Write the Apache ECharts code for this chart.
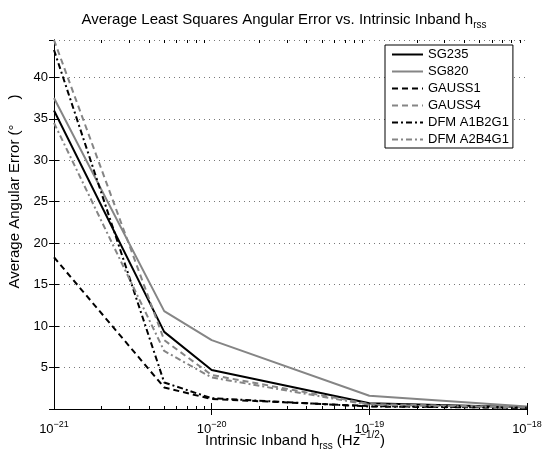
<!DOCTYPE html>
<html><head><meta charset="utf-8">
<script src="https://cdn.jsdelivr.net/npm/echarts@6/dist/echarts.min.js"></script>
<style>html,body{margin:0;padding:0;background:#fff}#c{width:549px;height:451px}</style>
</head><body><div id="c"></div>
<script>
const hrss = [1e-21, 5e-21, 1e-20, 1e-19, 1e-18];
const seriesNames = ['SG235', 'SG820', 'GAUSS1', 'GAUSS4', 'DFM A1B2G1', 'DFM A2B4G1'];
const sg235 = [36.0, 9.3, 4.7, 0.7, 0.2];
const sg820 = [37.5, 11.8, 8.3, 1.6, 0.3];
const gauss1 = [18.3, 2.6, 1.2, 0.35, 0.15];
const gauss4 = [44.5, 8.3, 4.1, 0.6, 0.2];
const dfmA1B2G1 = [43.3, 3.2, 1.3, 0.3, 0.15];
const dfmA2B4G1 = [34.5, 7.0, 3.8, 0.5, 0.2];
const yTicks = [5, 10, 15, 20, 25, 30, 35, 40];

const FONT = 'Liberation Sans, Arial, sans-serif';
const GRAY = '#858585';
const minorExp = [];
for (let e = -21; e < -18; e++) for (let k = 2; k <= 9; k++) minorExp.push(e + Math.log10(k));

function mk(name, data, color, type) {
  return {
    name: name, type: 'line', data: hrss.map((x, i) => [x, data[i]]),
    symbol: 'circle', showSymbol: false, symbolSize: 4,
    lineStyle: {color: color, width: 2, type: type, cap: 'butt'},
    itemStyle: {color: color}, xAxisIndex: 0, yAxisIndex: 0, z: 3
  };
}
function tickAxis(pos, vals, len) {
  return {
    type: 'value', position: pos, min: -21, max: -18,
    axisLine: {show: false},
    axisTick: {show: true, inside: true, length: len, lineStyle: {color: '#000'}, customValues: vals},
    axisLabel: {show: false}, splitLine: {show: false}
  };
}
const yBase = {
  type: 'value', min: 0, max: 44.5, interval: 5,
  axisLine: {show: true, lineStyle: {color: '#000', width: 1}},
  axisTick: {show: true, inside: true, length: 5, lineStyle: {color: '#000'}},
  splitLine: {show: false}
};
const option = {
  animation: false, backgroundColor: '#fff',
  title: [
    {
      text: 'Average Least Squares Angular Error vs. Intrinsic Inband h{sub|rss}',
      left: 279, textAlign: 'center', top: 4,
      textStyle: {fontSize: 15, fontWeight: 'normal', fontFamily: FONT, color: '#000',
        rich: {sub: {fontSize: 10, fontFamily: FONT, color: '#000', padding: [11, 0, 0, 0]}}}
    },
    {
      text: 'Intrinsic Inband h{sub|rss} (Hz{sup|\u22121/2})',
      left: 290, textAlign: 'center', top: 425,
      textStyle: {fontSize: 15, fontWeight: 'normal', fontFamily: FONT, color: '#000',
        rich: {
          sub: {fontSize: 10, fontFamily: FONT, color: '#000', padding: [11, 0, 0, 0]},
          sup: {fontSize: 10, fontFamily: FONT, color: '#000', padding: [0, 0, 11, 0]}
        }}
    }
  ],
  grid: {left: 54, top: 40, right: 22, bottom: 42, outerBoundsMode: 'none'},
  legend: {
    orient: 'vertical', left: 385, top: 45, data: seriesNames,
    itemWidth: 31, itemHeight: 12, itemGap: 4, padding: [3, 4, 2, 6],
    borderColor: '#000', borderWidth: 1, backgroundColor: '#fff',
    itemStyle: {opacity: 0},
    textStyle: {fontSize: 13, fontFamily: FONT, color: '#000', lineHeight: 12}
  },
  xAxis: [
    {
      type: 'log', logBase: 10, min: 1e-21, max: 1e-18, position: 'bottom',
      axisLine: {show: true, lineStyle: {color: '#000', width: 1}},
      splitLine: {show: false},
      axisTick: {show: true, inside: true, length: 6, lineStyle: {color: '#000'}},
      axisLabel: {show: false}
    },
    {
      type: 'log', logBase: 10, min: 1e-21, max: 1e-18, position: 'top',
      axisLine: {show: true, lineStyle: {color: '#000', width: 1}},
      splitLine: {show: false},
      axisTick: {show: true, inside: true, length: 6, lineStyle: {color: '#000'}},
      axisLabel: {show: false}
    },
    tickAxis('bottom', minorExp, 3),
    tickAxis('top', minorExp, 3),
    {
      type: 'value', position: 'bottom', min: -21, max: -18, interval: 1,
      axisLine: {show: false}, axisTick: {show: false}, splitLine: {show: false},
      axisLabel: {show: true, margin: 11, color: '#000', fontFamily: FONT,
        formatter: function (v) { return '{b|10}{s|\u2212' + Math.abs(Math.round(v)) + '}'; },
        rich: {
          b: {fontSize: 13, fontFamily: FONT, color: '#000'},
          s: {fontSize: 9, fontFamily: FONT, color: '#000', padding: [0, 0, 9, 0]}
        }}
    }
  ],
  yAxis: [
    Object.assign({}, yBase, {
      position: 'left',
      name: 'Average Angular Error (\u00b0      )', nameLocation: 'middle', nameGap: 25,
      nameTextStyle: {fontSize: 15, fontFamily: FONT, color: '#000', padding: [0, 0, 0, 66]},
      axisLabel: {show: true, fontSize: 13, fontFamily: FONT, color: '#000', margin: 6,
        showMinLabel: false, showMaxLabel: false,
        formatter: function (v) { return yTicks.indexOf(v) >= 0 ? String(v) : ''; }},
      splitLine: {show: true, lineStyle: {color: '#777', type: [1, 4], width: 1}}
    }),
    Object.assign({}, yBase, {position: 'right', axisLabel: {show: false}})
  ],
  series: [
    mk(seriesNames[0], sg235, '#000', 'solid'),
    mk(seriesNames[1], sg820, GRAY, 'solid'),
    mk(seriesNames[2], gauss1, '#000', [6, 4]),
    mk(seriesNames[3], gauss4, GRAY, [6, 4]),
    mk(seriesNames[4], dfmA1B2G1, '#000', [6, 3, 2, 3]),
    mk(seriesNames[5], dfmA2B4G1, GRAY, [6, 3, 2, 3])
  ]
};
const chart = echarts.init(document.getElementById('c'), null, {renderer: 'canvas'});
chart.setOption(option);
</script></body></html>
